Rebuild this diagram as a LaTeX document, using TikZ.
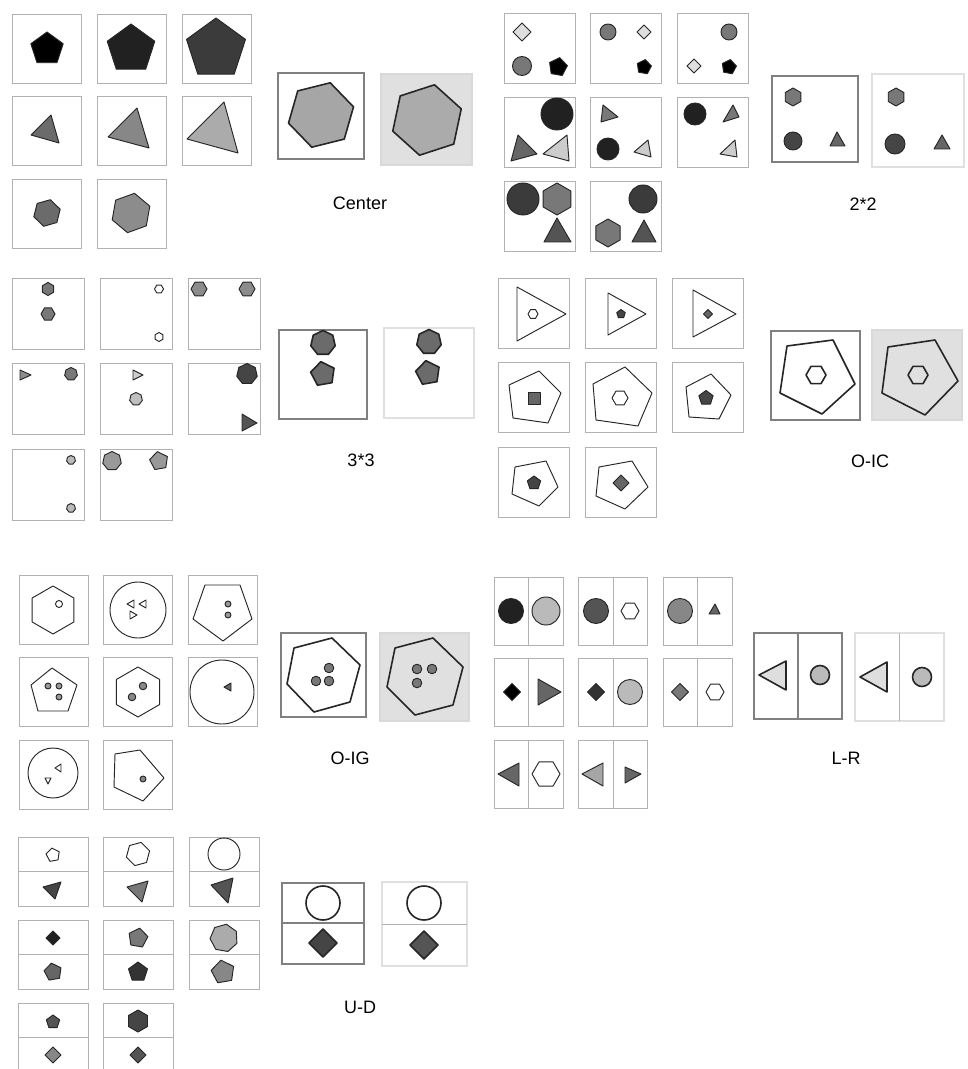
\documentclass[tikz,border=0pt]{standalone}
\usepackage{fontspec}
\setmainfont{Liberation Sans}
\usepackage{tikz}

\tikzset{
  cell/.style={draw=black!30, line width=0.7pt},
  anscell/.style={draw=black!50, line width=0.9pt},
  ansgray/.style={draw=black!15, fill=black!12, line width=0.9pt},
  answhite/.style={draw=black!12, line width=0.9pt},
  shp/.style={draw=black!85, line width=0.7pt, line join=round},
  bigshp/.style={draw=black!85, line width=1.2pt, line join=round},
  tag/.style={font=\fontsize{13.5}{16}\selectfont}
}
% regular polygon: [style]{sides}{x}{y}{radius}{start angle}{fill}
\newcommand{\ngon}[7][shp]{\filldraw[#1,fill=#7,shift={(#3,#4)}] (#6:#5) \foreach \k in {1,...,#2}{ -- ({#6+\k*360/#2}:#5)} -- cycle;}
\newcommand{\disc}[5][shp]{\filldraw[#1,fill=#5] (#2,#3) circle[radius=#4];}
\newcommand{\tri}[5][shp]{\filldraw[#1,fill=#5] (#2)--(#3)--(#4)--cycle;}
\newcommand{\cellgrid}[6]{\foreach \i/\j in {0/0,1/0,2/0,0/1,1/1,2/1,0/2,1/2} \draw[cell] ({#1+\i*#3},{#2+\j*#4}) rectangle ++(#5,#6);}

\begin{document}
\begin{tikzpicture}[x=0.75pt,y=-0.75pt]
\useasboundingbox (0,0) rectangle (967,1069);
\fill[white] (0,0) rectangle (967,1069);

% Center
\cellgrid{12}{14}{85}{82.5}{69}{69}
\ngon{5}{47}{49}{17}{-90}{black}
\ngon{5}{131}{49}{25}{-90}{black!87}
\ngon{5}{216}{49}{31}{-90}{black!77}
\tri{31,135}{51,115}{59,143}{black!58}
\tri{108,137}{137,108}{149,148}{black!47}
\tri{187,139}{224,102}{238,153}{black!33}
\ngon{6}{47}{213}{13.7}{-76}{black!58}
\ngon{6}{131}{213}{20}{-80}{black!45}
\draw[anscell] (278,73) rectangle (364,159);
\filldraw[ansgray] (381,74) rectangle (472,165);
\ngon[bigshp]{6}{321}{115}{33.5}{-74}{black!35}
\ngon[bigshp]{6}{427}{120}{36}{-78}{black!33}
\node[tag] (center) at (360,203) {Center};

% 2*2
\cellgrid{504}{13}{86.5}{84}{71}{70}
\ngon{4}{522}{32}{9}{0}{black!13}
\disc{522}{66}{9.5}{black!53}
\ngon{5}{558}{67}{9.5}{-80}{black}
\disc{608}{32}{8}{black!53}
\ngon{4}{644}{32}{7}{0}{black!13}
\ngon{5}{644}{67}{7.5}{-80}{black}
\disc{729}{32}{8}{black!53}
\ngon{4}{694}{66}{7}{0}{black!13}
\ngon{5}{729}{67}{7.5}{-80}{black}
\disc{557}{114}{16}{black!87}
\tri{511,161}{518,135}{537,154}{black!60}
\tri{543,154}{567,135}{569,161}{black!20}
\tri{601,122}{603,105}{618,117}{black!53}
\disc{608}{149}{11}{black!87}
\tri{634,152}{648,140}{651,157}{black!20}
\disc{695}{114}{11}{black!87}
\tri{723,122}{733,105}{739,117}{black!53}
\tri{720,154}{735,140}{737,157}{black!20}
\disc{523}{199}{16}{black!77}
\ngon{6}{557}{199}{16}{-90}{black!53}
\tri{544,242}{557,218}{571,242}{black!67}
\disc{643}{199}{14}{black!77}
\ngon{6}{608}{233}{14}{-90}{black!53}
\tri{632,242}{644,220}{656,242}{black!67}
\draw[anscell] (772,76) rectangle (858,162);
\draw[answhite] (872,74) rectangle (964,167);
\ngon{6}{793}{97}{9}{-90}{black!53}
\disc{793}{141}{9}{black!73}
\tri{830,146}{837,132}{845,146}{black!60}
\ngon{6}{896}{97}{9}{-90}{black!53}
\disc{895}{144}{10}{black!73}
\tri{934,149}{942,135}{950,149}{black!60}
\node[tag] (twobytwo) at (863,204) {2*2};

% 3*3
\cellgrid{12}{278}{88}{85.5}{72}{71}
\ngon{6}{48}{289}{6.5}{-90}{black!53}
\ngon{6}{48}{314}{7}{0}{black!53}
\ngon{6}{159}{289}{4.5}{0}{white}
\ngon{6}{159}{337}{4.5}{-90}{white}
\ngon{6}{199}{289}{8}{0}{black!45}
\ngon{6}{247}{289}{8}{0}{black!45}
\tri{20,370}{20,380}{31,375}{black!45}
\ngon{7}{71}{374}{6.5}{-90}{black!53}
\tri{133,370}{133,380}{143,375}{black!20}
\ngon{7}{136}{399}{6.5}{-90}{black!25}
\ngon{7}{247}{374}{10.5}{-90}{black!73}
\tri{242,414}{242,431}{257,423}{black!67}
\ngon{7}{71}{460}{4.5}{-90}{black!27}
\ngon{7}{71}{508}{4.5}{-90}{black!27}
\ngon{7}{112}{461}{9.5}{-90}{black!40}
\ngon{5}{159}{461}{9.5}{-100}{black!40}
\draw[anscell] (279,330) rectangle (367,419);
\draw[answhite] (384,328) rectangle (474,418);
\ngon[bigshp]{7}{323}{343}{12.5}{-90}{black!58}
\ngon[bigshp]{5}{323}{374}{12.5}{-100}{black!58}
\ngon[bigshp]{7}{429}{342}{12.5}{-90}{black!58}
\ngon[bigshp]{5}{428}{373}{12.5}{-100}{black!58}
\node[tag] (threebythree) at (361,460) {3*3};

% O-IC
\cellgrid{498}{278}{87}{84.5}{71}{70}
\tri{517,287}{517,341}{566,314}{white}
\ngon{6}{533}{314}{5}{0}{white}
\tri{608,293}{608,335}{646,314}{white}
\ngon{5}{621}{314}{4.5}{-90}{black!73}
\tri{693,290}{693,337}{736,314}{white}
\ngon{4}{708}{314}{4.5}{0}{black!60}
\filldraw[shp,fill=white] (509,385)--(539,371)--(561,393)--(548,423)--(513,418)--cycle;
\ngon{4}{534}{398}{8.5}{45}{black!60}
\filldraw[shp,fill=white] (593,384)--(625,367)--(652,393)--(638,426)--(596,420)--cycle;
\ngon{6}{620}{398}{8}{0}{white}
\filldraw[shp,fill=white] (686,387)--(711,374)--(731,395)--(719,419)--(689,417)--cycle;
\ngon{5}{706}{398}{7.5}{-90}{black!73}
\filldraw[shp,fill=white] (515,467)--(546,461)--(558,487)--(539,506)--(512,494)--cycle;
\ngon{5}{534}{483}{7}{-90}{black!73}
\filldraw[shp,fill=white] (599,467)--(632,461)--(648,487)--(625,509)--(596,496)--cycle;
\ngon{4}{621}{483}{8}{0}{black!60}
\draw[anscell] (771,331) rectangle (860,420);
\filldraw[ansgray] (872,330) rectangle (962,420);
\draw[bigshp] (787,346)--(833,340)--(855,384)--(822,414)--(780,393)--cycle;
\ngon[bigshp]{6}{816}{375}{10}{0}{white}
\draw[bigshp] (888,347)--(935,340)--(958,381)--(925,415)--(882,393)--cycle;
\ngon[bigshp]{6}{918}{375}{10}{0}{black!12}
\node[tag] (oic) at (870,461) {O-IC};

% O-IG
\cellgrid{19}{575}{84.5}{82.5}{69}{69}
\ngon{6}{53}{610}{24}{-90}{white}
\disc{59}{604}{3.5}{white}
\disc{138}{610}{28}{white}
\tri{127,604}{134,600}{134,608}{white}
\tri{139,604}{146,600}{146,608}{white}
\tri{130,611}{130,619}{137,615}{white}
\filldraw[shp,fill=white] (205,585)--(240,585)--(252,619)--(223,641)--(193,619)--cycle;
\disc{228}{604}{3}{black!40}
\disc{228}{615}{3}{black!40}
\filldraw[shp,fill=white] (52,668)--(77,685)--(68,711)--(38,711)--(31,685)--cycle;
\disc{48}{686}{3}{black!40}
\disc{59}{686}{3}{black!40}
\disc{59}{697}{3}{black!40}
\ngon{6}{138}{692}{25}{-90}{white}
\disc{143}{686}{3.8}{black!47}
\disc{132}{697}{3.8}{black!47}
\disc{222}{692}{32}{white}
\tri{224,687}{231,683}{231,691}{black!60}
\disc{53}{773}{25}{white}
\tri{55,768}{61,764}{61,772}{white}
\tri{45,778}{51,778}{48,784}{white}
\filldraw[shp,fill=white] (115,754)--(140,750)--(164,778)--(143,801)--(114,787)--cycle;
\disc{143}{779}{3}{black!47}
\draw[anscell] (281,633) rectangle (366,717);
\filldraw[ansgray] (380,633) rectangle (469,721);
\draw[bigshp] (294,648)--(332,638)--(360,665)--(350,702)--(314,712)--(287,684)--cycle;
\disc{329}{668}{4.8}{black!53}
\disc{316}{681}{4.8}{black!53}
\disc{329}{681}{4.8}{black!53}
\draw[bigshp] (395,648)--(433,638)--(463,667)--(453,705)--(415,715)--(387,687)--cycle;
\disc{417}{669}{4.8}{black!53}
\disc{432}{669}{4.8}{black!53}
\disc{417}{683}{4.8}{black!53}
\node[tag] (oig) at (350,758) {O-IG};

% L-R
\cellgrid{494}{577}{84.5}{81.5}{69}{68}
\foreach \i/\j in {0/0,1/0,2/0,0/1,1/1,2/1,0/2,1/2} \draw[cell] ({494+\i*84.5+34.5},{577+\j*81.5}) -- ++(0,68);
\disc{511}{611}{12.5}{black!87}
\disc{546}{611}{14}{black!27}
\disc{596}{611}{12.5}{black!67}
\ngon{6}{630}{611}{9}{0}{white}
\disc{680}{611}{12.5}{black!47}
\tri{709,614}{715,604}{720,614}{black!60}
\ngon{4}{512}{692}{8.5}{0}{black}
\tri{538,679}{538,705}{561,692}{black!60}
\ngon{4}{596}{692}{8.5}{0}{black!80}
\disc{630}{692}{12.5}{black!27}
\ngon{4}{680}{692}{8.5}{0}{black!53}
\ngon{6}{715}{692}{9}{0}{white}
\tri{498,774}{519,763}{519,786}{black!60}
\ngon{6}{546}{774}{14}{0}{white}
\tri{582,774}{603,763}{603,786}{black!35}
\tri{625,767}{625,783}{641,774}{black!60}
\draw[anscell] (754,633) rectangle (842,719) (798,633) -- (798,719);
\draw[answhite] (855,633) rectangle (944,721);
\draw[cell] (899,633) -- (899,721);
\tri[bigshp]{759,675}{786,661}{786,690}{black!13}
\disc[bigshp]{820}{675}{9.5}{black!27}
\tri[bigshp]{860,677}{887,662}{887,692}{black!13}
\disc[bigshp]{922}{677}{9.5}{black!27}
\node[tag] (lr) at (846,758) {L-R};

% U-D
\cellgrid{18}{837}{85.5}{83}{70}{69}
\foreach \i/\j in {0/0,1/0,2/0,0/1,1/1,2/1,0/2,1/2} \draw[cell] ({18+\i*85.5},{837+\j*83+34.5}) -- ++(70,0);
\ngon{5}{53}{855}{7}{-100}{white}
\tri{43,887}{61,882}{55,899}{black!73}
\ngon{6}{138}{854}{12}{-15}{white}
\tri{127,887}{148,881}{142,902}{black!53}
\disc{224}{854}{16}{white}
\tri{211,885}{233,878}{228,903}{black!67}
\ngon{4}{53}{938}{7}{0}{black!87}
\ngon{5}{53}{972}{9}{-100}{black!60}
\ngon{5}{138}{938}{10}{-80}{black!53}
\ngon{5}{138}{972}{10}{-90}{black!80}
\ngon{7}{224}{938}{14}{-80}{black!33}
\ngon{5}{223}{972}{12}{-100}{black!47}
\ngon{5}{53}{1022}{7}{-90}{black!67}
\ngon{4}{53}{1055}{8}{0}{black!47}
\ngon{6}{138}{1021}{11}{-90}{black!73}
\ngon{4}{138}{1055}{8}{0}{black!67}
\draw[anscell] (282,883) rectangle (364,964) (282,923) -- (364,923);
\draw[answhite] (382,882) rectangle (467,966);
\draw[cell] (382,924) -- (467,924);
\disc[bigshp]{323}{903}{17}{white}
\ngon[bigshp]{4}{323}{943}{14}{0}{black!73}
\disc[bigshp]{424}{903}{17}{white}
\ngon[bigshp]{4}{424}{945}{14}{0}{black!67}
\node[tag] (ud) at (360,1007) {U-D};
\end{tikzpicture}
\end{document}
